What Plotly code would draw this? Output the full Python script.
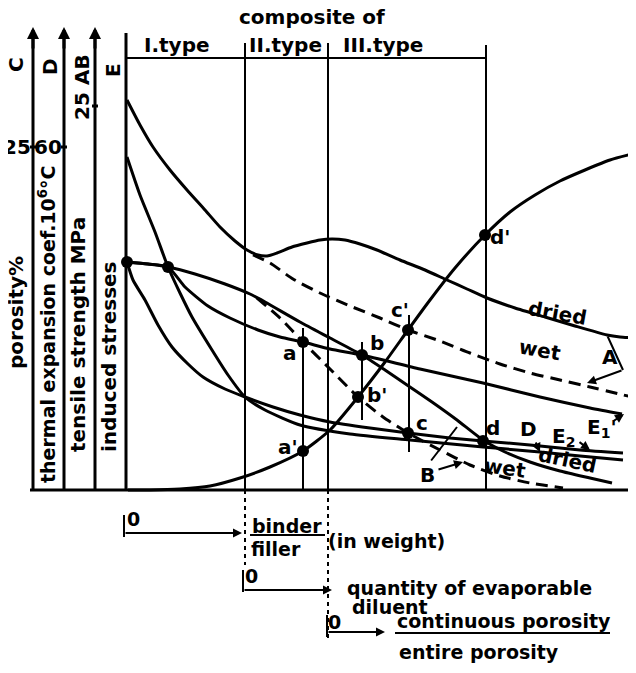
import plotly.graph_objects as go

# ---------------- data (schematic units: x from the E-axis, y above the baseline) ----------------
A_dried_x = [1, 14, 27, 44, 61, 79, 94, 109, 121, 132, 141, 151, 166, 181, 194, 206, 219, 234, 251, 274, 299, 321, 341, 361, 389, 419, 449, 481, 494, 510]
A_dried_y = [390, 365, 343, 320, 300, 280, 263, 249, 240, 235, 234, 237, 243, 247, 250, 251, 250, 246, 240, 230, 220, 210, 201, 192, 182, 173, 164, 155, 153, 152]

A_wet_x = [127, 144, 167, 194, 224, 254, 282, 314, 344, 374, 404, 434, 464, 510]
A_wet_y = [235, 227, 211, 197, 184, 172, 160, 149, 137, 126, 117, 110, 103, 92]

B_dried_x = [1, 22, 42, 69, 99, 124, 139, 174, 204, 236, 259, 281, 306, 331, 357, 379, 404, 434, 464, 486]
B_dried_y = [228, 226, 223, 216, 206, 196, 188, 168, 152, 135, 120, 105, 88, 70, 50, 38, 28, 19, 12, 7]

B_wet_x = [131, 154, 177, 204, 232, 257, 282, 314, 344, 374, 404, 437]
B_wet_y = [192, 172, 148, 121, 93, 73, 57, 40, 25, 14, 7, 2]

C_x = [2, 24, 54, 84, 114, 144, 177, 204, 232, 259, 282, 304, 329, 359, 384, 409, 434, 459, 484, 510]
C_y = [0, 0, 1, 4, 12, 23, 39, 60, 93, 128, 160, 190, 222, 255, 278, 295, 309, 320, 330, 337]

D_x = [1, 14, 29, 42, 54, 66, 86, 102, 119, 139, 174, 224, 284, 357, 414, 454, 497]
D_y = [333, 295, 258, 223, 197, 173, 140, 115, 93, 80, 65, 56, 50, 43, 38, 34, 30]

E1_x = [1, 22, 42, 59, 82, 104, 132, 154, 177, 204, 236, 294, 357, 414, 464, 496]
E1_y = [228, 226, 223, 203, 184, 172, 160, 153, 148, 141, 135, 121, 107, 93, 82, 76]

E2_x = [1, 7, 19, 32, 46, 62, 77, 99, 119, 147, 174, 204, 244, 282, 324, 357, 404, 454, 497]
E2_y = [228, 210, 190, 165, 143, 126, 113, 101, 93, 83, 75, 68, 62, 57, 52, 49, 45, 40, 37]

point_names = ["", "", "a", "b", "c", "d", "a'", "b'", "c'", "d'"]
point_x = [1, 42, 177, 236, 282, 357, 177, 232, 282, 359]
point_y = [228, 223, 148, 135, 57, 49, 39, 93, 160, 255]

type_labels = ["I.type", "II.type", "III.type"]
axis_letters = ["C", "D", "AB", "E"]
axis_titles = ["porosity%", "thermal expansion coef.10<sup>6</sup>°C", "tensile strength MPa", "induced stresses"]

FONT = "DejaVu Sans"
BLACK = "black"

fig = go.Figure()

def curve(x, y, dash="solid", width=3):
    fig.add_trace(go.Scatter(x=x, y=y, mode="lines", line=dict(color=BLACK, width=width, dash=dash, shape="spline", smoothing=0.6),
                             hoverinfo="skip", showlegend=False))

curve(A_dried_x, A_dried_y)
curve(A_wet_x, A_wet_y, dash="12px,7px")
curve(B_dried_x, B_dried_y)
curve(B_wet_x, B_wet_y, dash="12px,7px")
curve(C_x, C_y)
curve(D_x, D_y)
curve(E1_x, E1_y)
curve(E2_x, E2_y)

fig.add_trace(go.Scatter(x=point_x, y=point_y, mode="markers", marker=dict(color=BLACK, size=12),
                         hoverinfo="skip", showlegend=False))

shapes = []
def seg(x0, y0, x1, y1, width=2, dash="solid"):
    shapes.append(dict(type="line", xref="x", yref="y", x0=x0, y0=y0, x1=x1, y1=y1,
                       line=dict(color=BLACK, width=width, dash=dash)))

# baseline and left axes
seg(-96, 0, 510, 0, 3)
for ax_x, top in [(-93, 455), (-62, 455), (-31, 455), (0, 457)]:
    seg(ax_x, 0, ax_x, top, 3)
# frame of composite types
seg(0, 432, 361, 432, 2)
seg(119, 0, 119, 447, 2)
seg(202, 0, 202, 447, 2)
seg(360, 0, 360, 445, 2)
seg(119, 0, 119, -75, 2, "4px,4px")
seg(202, 0, 202, -150, 2, "4px,4px")
# verticals through the points
seg(177, 0, 177, 162, 2)
seg(236, 70, 236, 148, 2)
seg(283, 38, 283, 175, 2)
# ticks on the axes
for tx, ty in [(-93, 343), (-62, 343), (-31, 384)]:
    seg(tx - 3, ty, tx + 3, ty, 3)
# bottom scale ticks and underlines
seg(-2, -25, -2, -47, 2)
seg(117, -80, 117, -102, 2)
seg(201, -125, 201, -147, 2)
seg(124, -45, 199, -45, 2)
seg(269, -143, 484, -143, 2)

annotations = []
def label(x, y, text, size=20, angle=0, xanchor="center", yanchor="middle"):
    annotations.append(dict(x=x, y=y, xref="x", yref="y", text="<b>" + text + "</b>", showarrow=False, textangle=angle,
                            font=dict(family=FONT, size=size, color=BLACK), xanchor=xanchor, yanchor=yanchor))

def arrow(x0, y0, x1, y1, head=2, size=0.9, width=2):
    annotations.append(dict(x=x1, y=y1, ax=x0, ay=y0, xref="x", yref="y", axref="x", ayref="y", text="",
                            showarrow=True, arrowhead=head, arrowsize=size, arrowwidth=width, arrowcolor=BLACK))

# axis arrowheads
for ax_x in [-93, -62, -31]:
    arrow(ax_x, 440, ax_x, 463, head=2, size=0.8, width=3)

# title and type labels
label(186, 473, "composite of")
for tx, text in zip([51, 159, 257], type_labels):
    label(tx, 445, text)

# left axis letters and ticks
for lx, ly, text in zip([-110, -76, -44, -13], [425, 423, 420, 420], axis_letters):
    label(lx, ly, text, angle=-90)
label(-44, 384, "25", angle=-90)
label(-109, 343, "25")
label(-78, 343, "60")

# rotated axis titles
for lx, ly, text, sz in zip([-110, -79, -48, -17], [177, 166, 155, 133], axis_titles, [20, 19, 20, 20]):
    label(lx, ly, text, size=sz, angle=-90)

# point labels
for name, lx, ly in zip(point_names, [0, 0, 164, 251, 296, 367, 162, 251, 274, 374], [0, 0, 137, 147, 67, 62, 43, 95, 180, 253]):
    if name:
        label(lx, ly, name)

# curve labels
label(431, 177, "dried", angle=10)
label(414, 140, "wet", angle=10)
label(484, 133, "A")
arrow(481, 155, 497, 120, head=0)
arrow(497, 120, 461, 107)
label(441, 30, "dried", angle=12)
label(379, 22, "wet", angle=8)
label(301, 15, "B")
arrow(304, 28, 331, 63, head=0)
arrow(311, 20, 337, 28)
label(402, 61, "D")
arrow(409, 49, 414, 38)
label(437, 53, "E<sub>2</sub>")
arrow(452, 49, 464, 40)
label(476, 62, "E<sub>1</sub>'")
arrow(486, 68, 498, 76)

# bottom scales
BS = 19
label(7, -29, "0", size=BS)
arrow(-2, -43, 116, -43)
label(161, -36, "binder", size=BS)
label(150, -59, "filler", size=BS)
label(200, -51, "(in weight)", size=BS, xanchor="left")
label(125, -86, "0", size=BS)
arrow(117, -100, 206, -100)
label(219, -98, "quantity of evaporable", size=BS, xanchor="left")
label(224, -117, "diluent", size=BS, xanchor="left")
label(208, -132, "0", size=BS)
arrow(201, -142, 259, -142)
label(269, -131, "continuous porosity", size=BS, xanchor="left")
label(271, -162, "entire porosity", size=BS, xanchor="left")

# page body has an 8px margin: shift the ranges so one unit is one pixel from the window edge
fig.update_layout(
    width=636, height=673,
    margin=dict(l=0, r=0, t=0, b=0),
    paper_bgcolor="white", plot_bgcolor="white",
    xaxis=dict(range=[-118, 518], visible=False, fixedrange=True),
    yaxis=dict(range=[-191, 482], visible=False, fixedrange=True),
    shapes=shapes, annotations=annotations, showlegend=False,
)

fig.write_html("out.html")
